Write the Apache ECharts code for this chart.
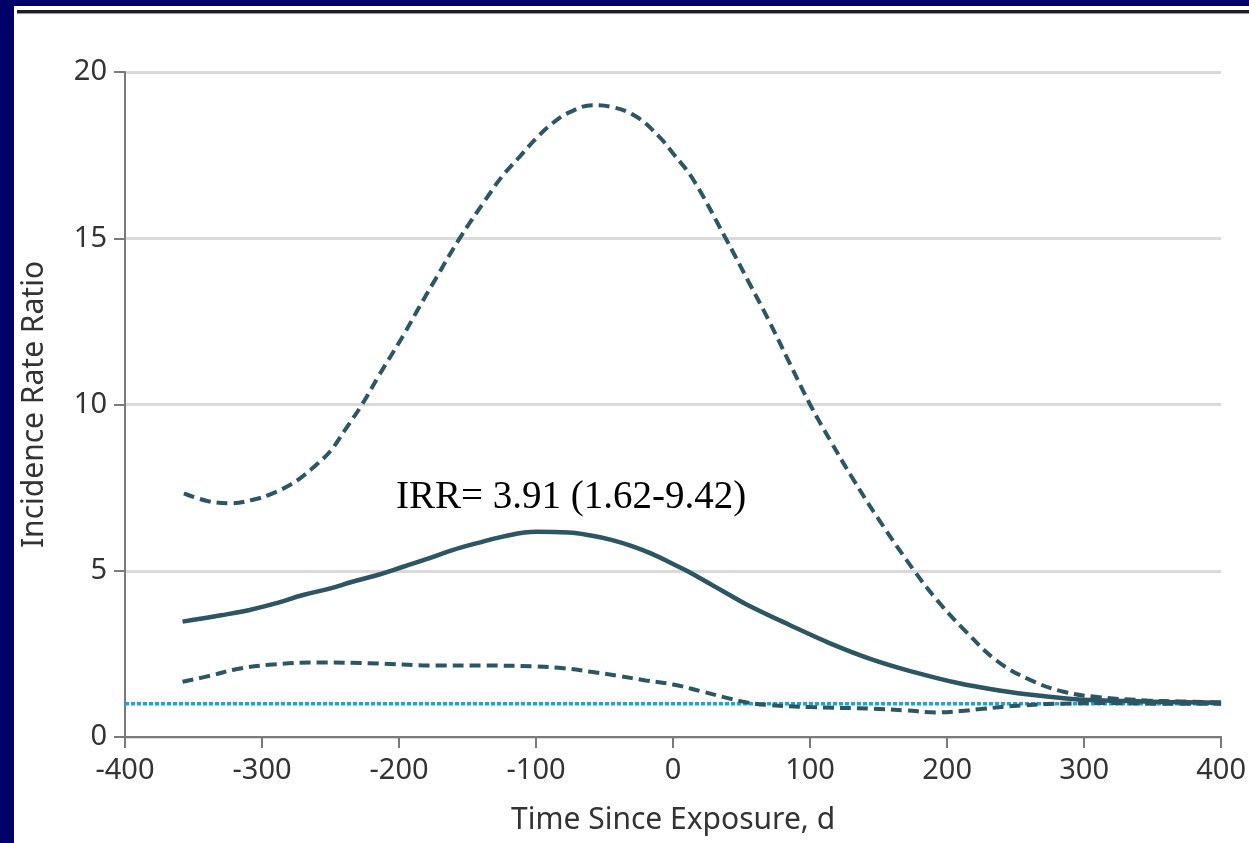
<!DOCTYPE html>
<html>
<head>
<meta charset="utf-8">
<title>Incidence Rate Ratio by Time Since Exposure</title>
<script src="https://cdn.jsdelivr.net/npm/echarts@6/dist/echarts.min.js"></script>
<style>
  html, body { margin: 0; padding: 0; background: #ffffff; }
  #chart { width: 1249px; height: 843px; }
</style>
</head>
<body>
<div id="chart"></div>
<script>
// Upper 95% confidence bound (days since exposure, IRR)
const upperDays = [-357, -340, -323, -305, -294, -280, -270, -260, -250, -240, -227, -215, -197, -185, -173, -156, -137, -125, -112, -100, -88, -75, -59, -45, -27, -10, 0, 14, 38, 55, 69, 85, 100, 115, 130, 150, 176, 193, 213, 237, 261, 285, 310, 346, 370, 400];
const upperIRR  = [7.33, 7.10, 7.03, 7.15, 7.30, 7.57, 7.85, 8.20, 8.60, 9.20, 10.0, 10.85, 12.07, 12.95, 13.8, 14.98, 16.15, 16.85, 17.45, 18.0, 18.46, 18.8, 19.0, 18.95, 18.66, 18.05, 17.55, 16.81, 15.03, 13.7, 12.6, 11.25, 10.0, 8.9, 7.85, 6.55, 5.0, 4.1, 3.2, 2.27, 1.71, 1.36, 1.2, 1.1, 1.07, 1.04];

// Point estimate of the incidence rate ratio
const estDays = [-358, -330, -309, -290, -270, -250, -234, -215, -197, -180, -161, -143, -125, -100, -76, -60, -45, -30, -15, 0, 11, 23, 40, 54, 85, 115, 146, 176, 207, 238, 268, 299, 334, 360, 400];
const estIRR  = [3.47, 3.66, 3.82, 4.02, 4.27, 4.47, 4.67, 4.88, 5.12, 5.35, 5.62, 5.83, 6.02, 6.17, 6.15, 6.06, 5.93, 5.74, 5.50, 5.20, 4.98, 4.70, 4.30, 3.98, 3.37, 2.81, 2.32, 1.95, 1.63, 1.40, 1.24, 1.12, 1.08, 1.05, 1.03];

// Lower 95% confidence bound
const lowerDays = [-358, -336, -319, -295, -258, -222, -173, -137, -100, -80, -60, -40, -20, 0, 20, 40, 54, 70, 100, 146, 170, 192, 210, 224, 255, 290, 320, 360, 400];
const lowerIRR  = [1.66, 1.86, 2.04, 2.17, 2.24, 2.22, 2.15, 2.15, 2.12, 2.07, 1.96, 1.84, 1.70, 1.58, 1.38, 1.17, 1.04, 0.96, 0.90, 0.85, 0.80, 0.74, 0.78, 0.84, 0.95, 1.01, 1.02, 1.0, 1.0];

// Null reference (IRR = 1)
const refDays = [-400, 400];
const refIRR  = [1, 1];

const xTicks = { min: -400, max: 400, step: 100 };
const yTicks = { min: 0, max: 20, step: 5 };

const annotation = 'IRR= 3.91 (1.62-9.42)';
const xTitle = 'Time Since Exposure, d';
const yTitle = 'Incidence Rate Ratio';

const pairs = (xs, ys) => xs.map((x, i) => [x, ys[i]]);

const curveColor = '#2d5662';
const refColor = '#14a6ea';
const labelFont = '"Noto Sans", "Open Sans", sans-serif';

const chart = echarts.init(document.getElementById('chart'), null, { renderer: 'canvas' });

chart.setOption({
  animation: false,
  backgroundColor: '#ffffff',
  grid: { left: 125, right: 25, top: 72, bottom: 106, containLabel: false },
  xAxis: {
    type: 'value',
    min: xTicks.min, max: xTicks.max, interval: xTicks.step,
    name: xTitle,
    nameLocation: 'middle',
    nameGap: 68,
    nameTextStyle: { fontFamily: labelFont, fontSize: 30, color: '#333333' },
    axisLine: { show: true, onZero: false, lineStyle: { color: '#7a7a7a', width: 2 } },
    axisTick: { show: true, length: 11, lineStyle: { color: '#7a7a7a', width: 2 } },
    axisLabel: { fontFamily: labelFont, fontSize: 29, color: '#333333', margin: 19 },
    splitLine: { show: false }
  },
  yAxis: {
    type: 'value',
    min: yTicks.min, max: yTicks.max, interval: yTicks.step,
    name: yTitle,
    nameLocation: 'middle',
    nameRotate: 90,
    nameGap: 76,
    nameTextStyle: { fontFamily: labelFont, fontSize: 30, color: '#333333' },
    axisLine: { show: true, onZero: false, lineStyle: { color: '#7a7a7a', width: 2 } },
    axisTick: { show: true, length: 11, lineStyle: { color: '#7a7a7a', width: 2 } },
    axisLabel: { fontFamily: labelFont, fontSize: 29, color: '#333333', margin: 18 },
    splitLine: { show: true, lineStyle: { color: '#dadada', width: 3 } }
  },
  graphic: [
    { type: 'rect', shape: { x: 0, y: 0, width: 14, height: 843 }, style: { fill: '#000066' }, z: 100 },
    { type: 'rect', shape: { x: 0, y: 0, width: 1249, height: 6 }, style: { fill: '#000066' }, z: 100 },
    { type: 'rect', shape: { x: 17, y: 10, width: 1232, height: 3 }, style: { fill: '#1e1e1e' }, z: 100 },
    { type: 'rect', shape: { x: 17, y: 13, width: 1232, height: 1 }, style: { fill: '#9a9a9a' }, z: 100 },
    {
      type: 'text', x: 396, y: 498, z: 100,
      style: {
        text: annotation,
        font: '39px "Liberation Serif", "Times New Roman", serif',
        fill: '#000000',
        textAlign: 'left',
        textVerticalAlign: 'middle'
      }
    }
  ],
  series: [
    {
      name: 'Reference',
      type: 'line',
      data: pairs(refDays, refIRR),
      symbol: 'none',
      lineStyle: { color: refColor, width: 3.5, type: [4, 2] },
      z: 1
    },
    {
      name: 'Upper bound',
      type: 'line',
      data: pairs(upperDays, upperIRR),
      smooth: 0.4,
      symbol: 'none',
      lineStyle: { color: curveColor, width: 4, type: [11, 6] },
      z: 3
    },
    {
      name: 'IRR',
      type: 'line',
      data: pairs(estDays, estIRR),
      smooth: 0.4,
      symbol: 'none',
      lineStyle: { color: curveColor, width: 4.5, type: 'solid' },
      z: 3
    },
    {
      name: 'Lower bound',
      type: 'line',
      data: pairs(lowerDays, lowerIRR),
      smooth: 0.4,
      symbol: 'none',
      lineStyle: { color: curveColor, width: 4, type: [11, 6] },
      z: 3
    }
  ]
});
</script>
</body>
</html>
